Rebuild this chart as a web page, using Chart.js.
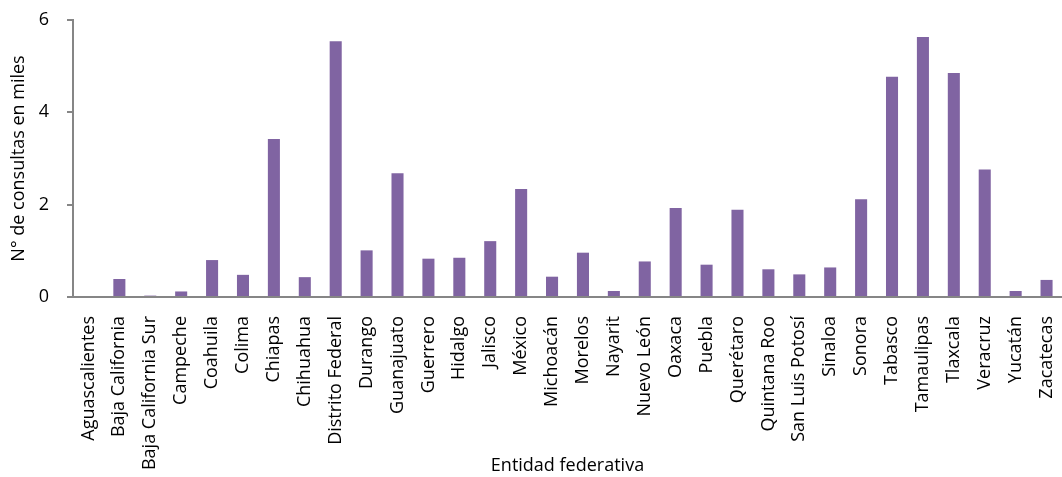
<!DOCTYPE html>
<html>
<head>
<meta charset="utf-8">
<script src="https://cdn.jsdelivr.net/npm/chart.js@4"></script>
<style>
    html, body { margin: 0; padding: 0; background: #fff; }
    #wrap { width: 1062px; height: 477px; }
</style>
</head>
<body>
<div id="wrap"><canvas id="myChart"></canvas></div>
<script>
// Entidades federativas y consultas (miles)
var entidades = ["Aguascalientes", "Baja California", "Baja California Sur", "Campeche", "Coahuila", "Colima",
    "Chiapas", "Chihuahua", "Distrito Federal", "Durango", "Guanajuato", "Guerrero", "Hidalgo", "Jalisco",
    "México", "Michoacán", "Morelos", "Nayarit", "Nuevo León", "Oaxaca", "Puebla", "Querétaro",
    "Quintana Roo", "San Luis Potosí", "Sinaloa", "Sonora", "Tabasco", "Tamaulipas", "Tlaxcala",
    "Veracruz", "Yucatán", "Zacatecas"];
var consultas = [0, 0.39, 0.03, 0.12, 0.80, 0.48, 3.42, 0.43, 5.54, 1.01, 2.68, 0.83, 0.85, 1.21,
    2.34, 0.44, 0.96, 0.13, 0.77, 1.93, 0.70, 1.89, 0.60, 0.49, 0.64, 2.12, 4.77, 5.63, 4.85,
    2.76, 0.13, 0.37];
var ticksY = [0, 2, 4, 6];

var gris = '#868686';
var fuente = '"Open Sans", Lato, sans-serif';

// quita el relleno automatico que Chart.js deja por las etiquetas de los extremos
function sinRelleno(scale) {
    scale.paddingLeft = 0;
    scale.paddingRight = 0;
    scale.paddingTop = 0;
    scale.paddingBottom = 0;
}

var ctx = document.getElementById('myChart').getContext('2d');
var myChart = new Chart(ctx, {
    type: 'bar',
    data: {
        labels: entidades,
        datasets: [{
            label: "Consultas",
            data: consultas,
            backgroundColor: '#8064A2',
            borderWidth: 0,
            barPercentage: 0.39,
            categoryPercentage: 1
        }]
    },
    options: {
        responsive: true,
        maintainAspectRatio: false,
        animation: false,
        layout: { padding: { top: 20, right: 0, left: 0, bottom: 0 } },
        plugins: {
            legend: { display: false },
            tooltip: { enabled: false }
        },
        scales: {
            x: {
                offset: true,
                grid: { display: false },
                border: { display: true, color: gris, width: 2 },
                ticks: {
                    autoSkip: false,
                    maxRotation: 90,
                    minRotation: 90,
                    padding: 11,
                    color: '#000',
                    font: { family: fuente, size: 18 }
                },
                title: {
                    display: true,
                    text: 'Entidad federativa',
                    color: '#000',
                    padding: 0,
                    font: { family: fuente, size: 18 }
                },
                afterFit: function (scale) {
                    scale.height = 180;
                    sinRelleno(scale);
                }
            },
            y: {
                min: 0,
                max: 6,
                afterBuildTicks: function (scale) {
                    scale.ticks = ticksY.map(function (v) { return { value: v }; });
                },
                grid: { drawOnChartArea: false, drawTicks: true, tickLength: 6, color: gris, lineWidth: 2 },
                border: { display: true, color: gris, width: 2 },
                ticks: {
                    padding: 18,
                    color: '#000',
                    font: { family: fuente, size: 18 }
                },
                title: {
                    display: true,
                    text: 'N° de consultas en miles',
                    color: '#000',
                    padding: { top: 8, bottom: 0 },
                    font: { family: fuente, size: 18 }
                },
                afterFit: function (scale) {
                    scale.width = 73;
                    sinRelleno(scale);
                }
            }
        }
    }
});
</script>
</body>
</html>
